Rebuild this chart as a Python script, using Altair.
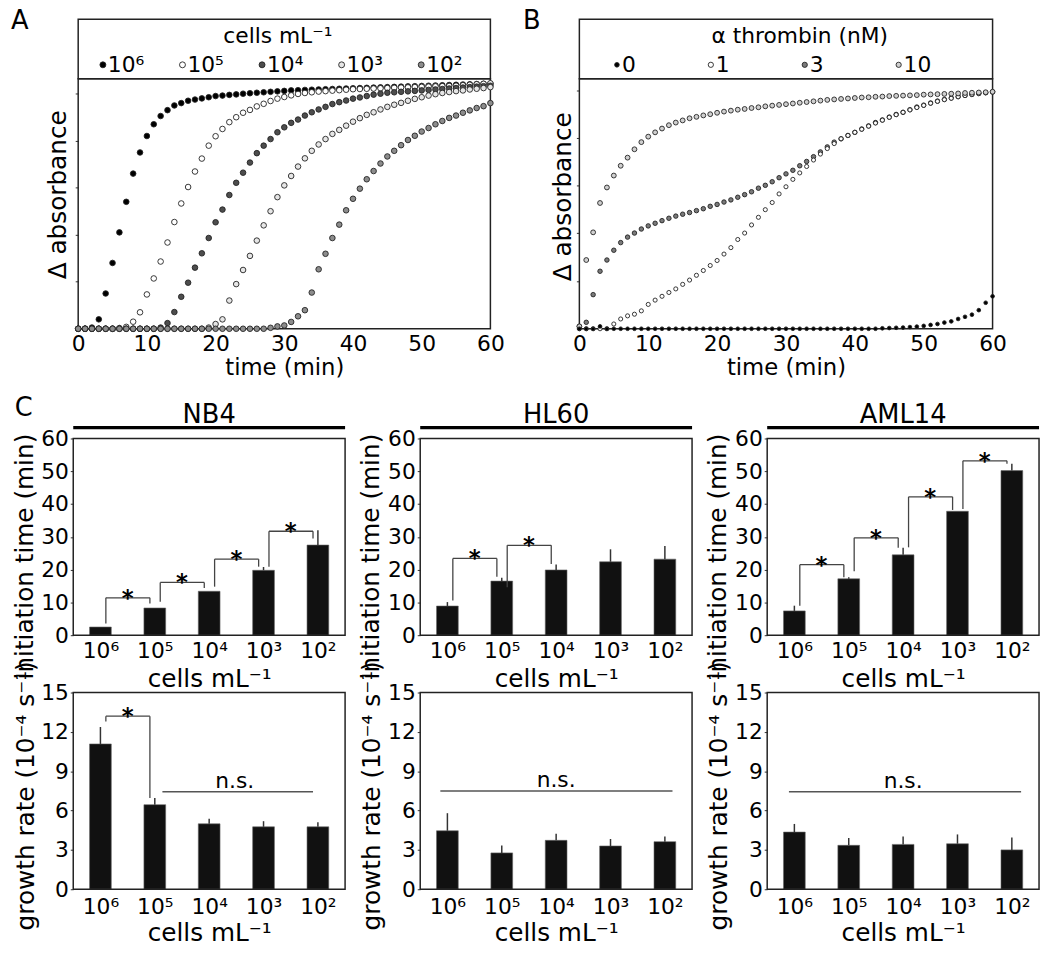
import json
import altair as alt
import pandas as pd

FONT = "DejaVu Sans"

# ---------------- Panel A / B data (normalised delta absorbance, 1 point per minute) -------------
TIME_MIN = list(range(61))
X_TICKS = [0, 10, 20, 30, 40, 50, 60]

A_LEVELS = ["10⁶", "10⁵", "10⁴", "10³", "10²"]
A_1E6 = [0.0, 0.0, 0.005, 0.04, 0.15, 0.28, 0.41, 0.54, 0.66, 0.75,
         0.82, 0.87, 0.905, 0.93, 0.95, 0.96, 0.97, 0.975, 0.98, 0.985,
         0.99, 0.992, 0.995, 0.997, 1.0, 1.002, 1.004, 1.006, 1.008, 1.01,
         1.012, 1.014, 1.015, 1.016, 1.017, 1.018, 1.019, 1.02, 1.021, 1.022,
         1.023, 1.024, 1.025, 1.026, 1.027, 1.028, 1.029, 1.03, 1.031, 1.032,
         1.033, 1.034, 1.035, 1.036, 1.037, 1.038, 1.039, 1.04, 1.041, 1.042,
         1.043]
A_1E5 = [0.0, 0.0, 0.0, 0.0, 0.0, 0.0, 0.003, 0.008, 0.03, 0.07,
         0.146, 0.214, 0.286, 0.367, 0.454, 0.533, 0.603, 0.669, 0.724, 0.779,
         0.819, 0.85, 0.879, 0.9, 0.919, 0.931, 0.946, 0.957, 0.969, 0.979,
         0.986, 0.993, 0.999, 1.003, 1.006, 1.009, 1.011, 1.013, 1.015, 1.017,
         1.019, 1.02, 1.021, 1.022, 1.023, 1.024, 1.025, 1.026, 1.027, 1.028,
         1.029, 1.03, 1.031, 1.032, 1.033, 1.034, 1.036, 1.038, 1.04, 1.042,
         1.044]
A_1E4 = [0.0, 0.0, 0.0, 0.0, 0.0, 0.0, 0.0, 0.0, 0.0, 0.0,
         0.0, 0.0, 0.005, 0.024, 0.071, 0.136, 0.196, 0.26, 0.321, 0.386,
         0.453, 0.507, 0.569, 0.621, 0.664, 0.707, 0.747, 0.779, 0.807, 0.836,
         0.857, 0.876, 0.89, 0.907, 0.921, 0.933, 0.944, 0.956, 0.964, 0.971,
         0.979, 0.984, 0.99, 0.996, 1.0, 1.004, 1.006, 1.008, 1.01, 1.012,
         1.014, 1.016, 1.018, 1.02, 1.022, 1.024, 1.026, 1.028, 1.03, 1.032,
         1.034]
A_1E3 = [0.0, 0.0, 0.0, 0.0, 0.0, 0.0, 0.0, 0.0, 0.0, 0.0,
         0.0, 0.0, 0.0, 0.0, 0.0, 0.0, 0.0, 0.0, 0.0, 0.005,
         0.02, 0.04, 0.12, 0.19, 0.25, 0.31, 0.375, 0.44, 0.5, 0.56,
         0.61, 0.65, 0.69, 0.725, 0.757, 0.784, 0.807, 0.829, 0.846, 0.864,
         0.881, 0.896, 0.91, 0.921, 0.933, 0.944, 0.953, 0.961, 0.97, 0.978,
         0.985, 0.992, 0.998, 1.003, 1.007, 1.011, 1.014, 1.018, 1.021, 1.024,
         1.028]
A_1E2 = [0.0, 0.0, 0.0, 0.0, 0.0, 0.0, 0.0, 0.0, 0.0, 0.0,
         0.0, 0.0, 0.0, 0.0, 0.0, 0.0, 0.0, 0.0, 0.0, 0.0,
         0.0, 0.0, 0.0, 0.0, 0.0, 0.0, 0.0, 0.0, 0.004, 0.01,
         0.014, 0.029, 0.053, 0.079, 0.154, 0.253, 0.319, 0.386, 0.443, 0.504,
         0.553, 0.596, 0.636, 0.671, 0.703, 0.733, 0.757, 0.781, 0.803, 0.821,
         0.839, 0.854, 0.87, 0.884, 0.897, 0.907, 0.919, 0.929, 0.939, 0.947,
         0.96]

B_LEVELS = ["0", "1", "3", "10"]
B_0NM = [0.0, 0.0, 0.0, 0.01, 0.0, 0.0, 0.0, 0.0, 0.0, 0.0,
         0.0, 0.0, 0.0, 0.0, 0.0, 0.0, 0.0, 0.0, 0.0, 0.0,
         0.0, 0.0, 0.0, 0.0, 0.0, 0.0, 0.0, 0.0, 0.0, 0.0,
         0.0, 0.0, 0.0, 0.0, 0.0, 0.0, 0.0, 0.0, 0.0, 0.0,
         0.0, 0.0, 0.0, 0.0, 0.002, 0.003, 0.004, 0.005, 0.007, 0.009,
         0.012, 0.016, 0.02, 0.026, 0.031, 0.041, 0.05, 0.059, 0.078, 0.109,
         0.136]
B_1NM = [0.0, 0.0, 0.0, 0.0, 0.0, 0.02, 0.041, 0.054, 0.061, 0.075,
         0.102, 0.12, 0.136, 0.152, 0.167, 0.186, 0.204, 0.224, 0.244, 0.265,
         0.286, 0.313, 0.34, 0.374, 0.401, 0.435, 0.467, 0.499, 0.529, 0.565,
         0.595, 0.626, 0.653, 0.68, 0.707, 0.732, 0.755, 0.776, 0.796, 0.81,
         0.823, 0.836, 0.849, 0.862, 0.874, 0.886, 0.897, 0.907, 0.917, 0.927,
         0.936, 0.945, 0.953, 0.96, 0.966, 0.972, 0.977, 0.981, 0.985, 0.989,
         0.992]
B_3NM = [0.01, 0.027, 0.143, 0.241, 0.288, 0.329, 0.361, 0.384, 0.401, 0.418,
         0.431, 0.442, 0.453, 0.463, 0.472, 0.48, 0.487, 0.495, 0.503, 0.513,
         0.521, 0.531, 0.54, 0.551, 0.562, 0.574, 0.589, 0.601, 0.616, 0.633,
         0.649, 0.664, 0.683, 0.701, 0.721, 0.741, 0.762, 0.782, 0.796, 0.81,
         0.823, 0.837, 0.85, 0.864, 0.875, 0.887, 0.898, 0.907, 0.918, 0.929,
         0.937, 0.946, 0.954, 0.961, 0.967, 0.973, 0.978, 0.982, 0.986, 0.989,
         0.993]
B_10NM = [0.01, 0.288, 0.404, 0.527, 0.592, 0.642, 0.683, 0.717, 0.752, 0.782,
          0.805, 0.823, 0.839, 0.853, 0.864, 0.873, 0.882, 0.888, 0.894, 0.899,
          0.905, 0.91, 0.914, 0.918, 0.921, 0.925, 0.928, 0.932, 0.935, 0.938,
          0.941, 0.944, 0.947, 0.95, 0.953, 0.956, 0.959, 0.961, 0.963, 0.965,
          0.967, 0.969, 0.97, 0.972, 0.973, 0.975, 0.976, 0.977, 0.978, 0.979,
          0.981, 0.982, 0.983, 0.984, 0.985, 0.986, 0.988, 0.989, 0.99, 0.991,
          0.993]

# ---------------- Panel C data ----------------
CELL_IDX = [1, 2, 3, 4, 5]
CELL_LABELS = ["10⁶", "10⁵", "10⁴", "10³", "10²"]

NB4_INIT = [2.5, 8.3, 13.4, 19.8, 27.5]
NB4_INIT_ERR = [0.0, 0.0, 0.0, 1.0, 4.5]
HL60_INIT = [8.9, 16.5, 19.9, 22.4, 23.2]
HL60_INIT_ERR = [1.2, 1.0, 1.7, 3.8, 4.0]
AML14_INIT = [7.4, 17.2, 24.5, 37.8, 50.2]
AML14_INIT_ERR = [1.6, 0.5, 2.2, 0.0, 2.1]

NB4_GROWTH = [11.08, 6.45, 4.99, 4.76, 4.76]
NB4_GROWTH_ERR = [1.29, 0.5, 0.38, 0.43, 0.35]
HL60_GROWTH = [4.46, 2.77, 3.73, 3.30, 3.63]
HL60_GROWTH_ERR = [1.34, 0.56, 0.5, 0.53, 0.4]
AML14_GROWTH = [4.36, 3.35, 3.42, 3.47, 3.0]
AML14_GROWTH_ERR = [0.62, 0.55, 0.61, 0.71, 0.95]

# significance brackets: (left category, right category, bracket level, left-leg end, right-leg end)
NB4_INIT_BRACKETS = [(1, 2, 11.4, 3.6, 9.7), (2, 3, 16.1, 10.2, 14.4),
                     (3, 4, 23.2, 14.8, 20.9), (4, 5, 31.7, 20.9, 29.5)]
HL60_INIT_BRACKETS = [(1, 2, 23.4, 10.6, 17.8), (2, 3, 27.4, 14.6, 21.7)]
AML14_INIT_BRACKETS = [(1, 2, 21.5, 9.0, 17.7), (2, 3, 29.7, 19.5, 26.7),
                       (3, 4, 42.2, 26.8, 38.2), (4, 5, 53.2, 38.5, 52.3)]
NB4_GROWTH_BRACKETS = [(1, 2, 13.2, 12.8, 6.95)]
# "n.s." lines: (from, to, level, label position)
NB4_NS = (2.14, 4.91, 7.43, 3.47)
HL60_NS = (0.87, 5.14, 7.49, 3.0)
AML14_NS = (0.9, 5.17, 7.43, 3.0)

ONE = pd.DataFrame({"k": [0]})
LABEL_EXPR = json.dumps(CELL_LABELS, ensure_ascii=False) + "[datum.value - 1]"


def text_layer(txt, x, y, size, align="center", baseline="middle"):
    return alt.Chart(ONE).mark_text(text=txt, fontSize=size, font=FONT, align=align,
                                    baseline=baseline, fill="black").encode(
        x=alt.value(x), y=alt.value(y))


def left_anchor(x):
    """White hairline on the white page, used only to fix the left extent of a row."""
    return alt.Chart(ONE).mark_rule(stroke="white", strokeWidth=1).encode(
        x=alt.value(x), y=alt.value(0), y2=alt.value(1))


def frame(x0, x1, y0, y1):
    return alt.Chart(ONE).mark_rect(fill="white", fillOpacity=0, stroke="#222",
                                    strokeWidth=1.5).encode(
        x=alt.value(x0), x2=alt.value(x1), y=alt.value(y0), y2=alt.value(y1))


def curve_panel(series, levels, draw_order, fills, sizes, leg_sizes, ydom, leg_title,
                leg_title_x, leg_x0, leg_step, letter, letter_xy, ytitle_x, ytitle_y, W, H,
                inset=0, anchor=None):
    # the plot area occupies [inset, inset + W] of the view
    frames = [pd.DataFrame({"t": TIME_MIN, "v": series[lev], "series": lev}) for lev in draw_order]
    df = pd.concat(frames, ignore_index=True)
    x = alt.X("t:Q", scale=alt.Scale(domain=[0, 60], nice=False, range=[inset, inset + W]),
              axis=alt.Axis(values=X_TICKS, title="time (min)", tickSize=0, domain=False,
                            labelFlush=False, labelPadding=5, labelFontSize=22,
                            titleFontSize=23, titleY=39, titleX=inset + W / 2,
                            titleBaseline="middle", grid=False))
    y = alt.Y("v:Q", scale=alt.Scale(domain=ydom, nice=False, zero=False),
              axis=alt.Axis(values=[0, 0.2, 0.4, 0.6, 0.8, 1.0], labels=False, tickSize=3,
                            domain=False, offset=-inset, title="Δ absorbance", titleFontSize=25,
                            titleX=ytitle_x, titleY=ytitle_y, titleBaseline="middle", grid=False))
    pts = alt.Chart(df).mark_circle(opacity=1, stroke="#222", strokeWidth=0.9).encode(
        x=x, y=y,
        fill=alt.Fill("series:N", scale=alt.Scale(domain=levels, range=fills), legend=None),
        size=alt.Size("series:O", scale=alt.Scale(domain=levels, range=sizes), legend=None),
    )
    layers = [frame(inset, inset + W, -60, 0), frame(inset, inset + W, 0, H), pts,
              text_layer(leg_title, inset + leg_title_x, -43, 22),
              text_layer(letter, inset + letter_xy[0], letter_xy[1], 26)]
    # legend entries inside the box above the plot
    for i, (lev, col, sz) in enumerate(zip(levels, fills, leg_sizes)):
        sx = inset + leg_x0 + i * leg_step
        layers.append(alt.Chart(ONE).mark_circle(fill=col, stroke="#222", strokeWidth=0.9,
                                                 size=sz, opacity=1).encode(
            x=alt.value(sx), y=alt.value(-14)))
        layers.append(text_layer(lev, sx + 5, -14, 22, align="left"))
    if anchor is not None:
        layers.append(left_anchor(inset + anchor))
    return alt.layer(*layers).properties(
        width=W + inset, height=H, view=alt.ViewBackground(stroke="transparent"))


def bar_panel(vals, errs, ymax, ystep, ytitle, ytitle_x, ytitle_y, brackets, ns,
              header, letter, W, H, label_pad, anchor=None):
    xsc = alt.Scale(domain=[0.5, 5.5], nice=False, zero=False)
    xaxis = alt.Axis(values=CELL_IDX, labelExpr=LABEL_EXPR, title="cells mL⁻¹", tickSize=0,
                     domain=False, labelFlush=False, labelPadding=label_pad, labelFontSize=22,
                     titleFontSize=25, titleY=44, titleBaseline="middle", grid=False)
    ysc = alt.Scale(domain=[0, ymax], nice=False)
    yaxis = alt.Axis(values=list(range(0, ymax + 1, ystep)), title=ytitle, tickSize=3,
                     domain=False, labelPadding=2, labelFontSize=22, titleFontSize=25,
                     titleX=ytitle_x, titleY=ytitle_y, titleBaseline="middle", grid=False)

    def X(f):
        return alt.X(f, scale=xsc, axis=xaxis)

    def Y(f):
        return alt.Y(f, scale=ysc, axis=yaxis)

    df = pd.DataFrame({"idx": CELL_IDX, "val": vals, "err": errs})
    base = alt.Chart(df).transform_calculate(
        lo="datum.idx - 0.2", hi="datum.idx + 0.2", top="datum.val + datum.err", zero="0")
    layers = [
        base.mark_rect(color="#111", stroke="#666", strokeWidth=0.6).encode(
            x=X("lo:Q"), x2="hi:Q", y=Y("val:Q"), y2="zero:Q"),
        base.transform_filter("datum.err > 0").mark_rule(color="#333", strokeWidth=1.5).encode(
            x=X("idx:Q"), y=Y("val:Q"), y2="top:Q"),
    ]
    if brackets:
        bdf = pd.DataFrame(brackets, columns=["l", "r", "h", "lb", "rb"])
        bb = alt.Chart(bdf).transform_calculate(
            xl="datum.l + 0.1", xr="datum.r - 0.09", xm="(datum.l + datum.r) / 2")
        layers += [
            bb.mark_rule(color="#444", strokeWidth=1.3).encode(x=X("xl:Q"), x2="xr:Q", y=Y("h:Q")),
            bb.mark_rule(color="#444", strokeWidth=1.3).encode(x=X("xl:Q"), y=Y("lb:Q"), y2="h:Q"),
            bb.mark_rule(color="#444", strokeWidth=1.3).encode(x=X("xr:Q"), y=Y("rb:Q"), y2="h:Q"),
            bb.mark_text(text="*", fontSize=23, font=FONT, fontWeight="bold",
                         baseline="alphabetic", dy=8, fill="black").encode(x=X("xm:Q"), y=Y("h:Q")),
        ]
    if ns:
        ndf = pd.DataFrame([ns], columns=["x1", "x2", "y", "tx"])
        nb = alt.Chart(ndf)
        layers += [
            nb.mark_rule(color="#555", strokeWidth=1.5).encode(x=X("x1:Q"), x2="x2:Q", y=Y("y:Q")),
            nb.mark_text(text="n.s.", fontSize=22, font=FONT, baseline="alphabetic", dy=-4,
                         fill="black").encode(x=X("tx:Q"), y=Y("y:Q")),
        ]
    if header:
        layers += [
            alt.Chart(ONE).mark_rule(color="black", strokeWidth=3.5).encode(
                x=alt.value(0), x2=alt.value(W), y=alt.value(-11)),
            text_layer(header, W / 2, -24, 26),
        ]
    if letter:
        layers.append(text_layer(letter, -50, -31, 26))
    if anchor is not None:
        layers.append(left_anchor(anchor))
    layers.append(frame(0, W, 0, H))
    return alt.layer(*layers).properties(
        width=W, height=H, view=alt.ViewBackground(stroke="transparent"))


panel_a = curve_panel(
    {"10⁶": A_1E6, "10⁵": A_1E5, "10⁴": A_1E4, "10³": A_1E3, "10²": A_1E2},
    A_LEVELS, A_LEVELS,
    ["#000000", "#ffffff", "#4d4d4d", "#e6e6e6", "#8c8c8c"], [32, 32, 32, 32, 32],
    [36, 36, 36, 36, 36],
    [0, 1.064], "cells mL⁻¹", 202, 25, 80.5, "A", (-59, -58), -21, 117, 417, 253,
    inset=5, anchor=-78)

panel_b = curve_panel(
    {"0": B_0NM, "1": B_1NM, "3": B_3NM, "10": B_10NM},
    B_LEVELS, ["3", "1", "10", "0"],
    ["#000000", "#ffffff", "#7a7a7a", "#cfcfcf"], [14, 24, 24, 24], [22, 28, 28, 28],
    [0, 1.048], "α thrombin (nM)", 223, 38, 95, "B", (-48, -58), -17, 119, 418, 253)

W_C, H_C = 275, 199
init_title = "initiation time (min)"
grow_title = "growth rate (10⁻⁴ s⁻¹)"

nb4_i = bar_panel(NB4_INIT, NB4_INIT_ERR, 60, 10, init_title, -49, 119, NB4_INIT_BRACKETS, None,
                  "NB4", "C", W_C, H_C, 6, anchor=-70)
hl60_i = bar_panel(HL60_INIT, HL60_INIT_ERR, 60, 10, init_title, -50, 119, HL60_INIT_BRACKETS, None,
                   "HL60", None, W_C, H_C, 6)
aml_i = bar_panel(AML14_INIT, AML14_INIT_ERR, 60, 10, init_title, -50, 119, AML14_INIT_BRACKETS, None,
                  "AML14", None, W_C, H_C, 6)

nb4_g = bar_panel(NB4_GROWTH, NB4_GROWTH_ERR, 15, 3, grow_title, -48, 104, NB4_GROWTH_BRACKETS, NB4_NS,
                  None, None, W_C, H_C, 8, anchor=-70)
hl60_g = bar_panel(HL60_GROWTH, HL60_GROWTH_ERR, 15, 3, grow_title, -49, 104, None, HL60_NS,
                   None, None, W_C, H_C, 8)
aml_g = bar_panel(AML14_GROWTH, AML14_GROWTH_ERR, 15, 3, grow_title, -49, 104, None, AML14_NS,
                  None, None, W_C, H_C, 8)

row1 = alt.hconcat(panel_a, panel_b, spacing=90, bounds="flush").resolve_scale(
    fill="independent", size="independent")
row2 = alt.hconcat(nb4_i, hl60_i, aml_i, spacing=76, bounds="flush")
row3 = alt.hconcat(nb4_g, hl60_g, aml_g, spacing=76, bounds="flush")
lower = alt.concat(row2, row3, columns=1, spacing=-33, align="none")

chart = alt.concat(
    row1, lower, columns=1, spacing=14, align="none",
    padding={"left": -9, "top": -6, "right": 0, "bottom": 0},
    background="white",
).configure_view(
    stroke="#222", strokeWidth=1.5
).configure_axis(
    labelFont=FONT, titleFont=FONT, labelColor="black", titleColor="black",
    tickColor="#333", titleFontWeight="normal"
)

chart.save("out.html", embed_options={"renderer": "svg", "actions": False})
